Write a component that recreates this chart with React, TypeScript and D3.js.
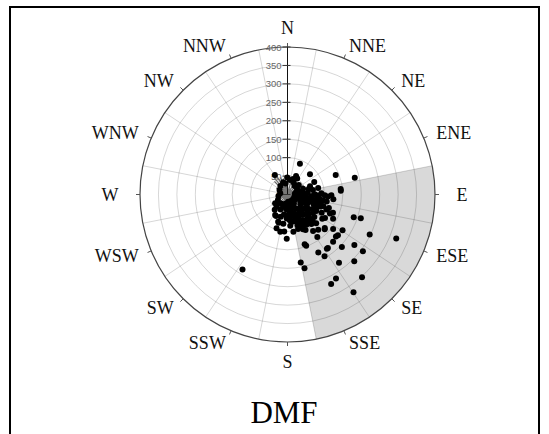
import React from "react";
import * as d3 from "d3";

// ---- data ----
const directions = ["N","NNE","NE","ENE","E","ESE","SE","SSE","S","SSW","SW","WSW","W","WNW","NW","NNW"];
const radialTicks = [0, 50, 100, 150, 200, 250, 300, 350, 400];
const sectorFrom = 78.75;
const sectorTo = 168.75;
const title = "DMF";

// scattered points: bearing (deg, clockwise from N) and value
const outerDir = [22,48,68,76,84,86,78,109,108,116,112,123,129,131,136,161,160,152,149,144,143,134,127,127,143,135,169,167,138,150,154,146,211,132,145,141,139,146,163,156,153,145,198,185,171,181];
const outerVal = [90,82,141,188,145,145,85,190,209,248,318,178,176,174,178,143,148,178,195,182,182,205,227,256,232,256,188,205,302,263,270,320,237,136,141,103,127,85,98,103,108,121,96,101,102,120];

const innerDir = [25,31,359,327,88,91,93,91,94,91,104,108,111,114,112,118,99,100,127,133,235,222,211,199,168,157,148,137,208,197,197,191,220];
const innerVal = [55,51,46,63,92,101,110,119,64,72,91,102,113,126,133,140,98,108,155,138,41,44,65,78,75,85,97,101,66,63,80,103,54];

const blobDir = [60,70,75,80,85,90,95,100,105,110,115,120,125,130,135,140,145,150,155,160,165,170,175,120,130,110,100,90,80,70,65,140,150,160,115,105,95,85,125,145,165,185,190,200,50,40,30,20,10,350,340,320,300,280,260,240,230,135,125,105,155,175,
  72,78,84,88,96,102,108,112,118,122,128,132,138,142,148,152,158,162,168,172,178,182,92,98,106,112,120,126,136,144,150,156,162,100,115,130,145,160,175,190,205,215,188,175,118,108,122,96];
const blobVal = [30,45,60,40,55,35,50,65,45,75,55,40,70,60,80,50,65,45,70,55,40,60,30,90,95,95,80,75,70,65,80,85,80,80,85,30,25,20,25,30,25,40,55,35,40,30,35,45,40,30,35,30,25,20,25,30,35,110,115,80,92,70,
  25,35,28,45,40,55,35,60,48,62,45,72,58,70,60,35,62,70,50,45,55,65,85,88,70,88,78,85,92,95,90,92,88,20,20,20,20,20,20,25,45,30,80,85,105,118,120,125];

// short grey rays around the origin
const burstDir = [0,15,30,45,60,75,90,105,120,135,150,165,180,195,210,225,240,255,270,285,300,315,322,330,338,345,352];
const burstVal = [40,35,45,40,50,55,60,65,70,60,55,50,45,40,35,30,28,25,25,30,35,50,60,58,50,45,40];

// ---- layout ----
const W = 549, H = 434;
const cx = 287.5, cy = 194.5, R = 147.5;
const serif = "'Liberation Serif', 'Times New Roman', serif";
const sans = "'Liberation Sans', Arial, sans-serif";

const rad = (deg: number) => (deg * Math.PI) / 180;

export default function App() {
  const r = d3.scaleLinear().domain([0, 400]).range([0, R]);
  const pos = (b: number, v: number): [number, number] => [
    cx + r(v) * Math.sin(rad(b)),
    cy - r(v) * Math.cos(rad(b)),
  ];

  const sectorPath = d3.arc()({
    innerRadius: 0,
    outerRadius: R,
    startAngle: rad(sectorFrom),
    endAngle: rad(sectorTo),
  } as any) as string;

  const points: [number, number][] = [];
  blobDir.forEach((b, i) => points.push(pos(b, blobVal[i])));
  innerDir.forEach((b, i) => points.push(pos(b, innerVal[i])));
  outerDir.forEach((b, i) => points.push(pos(b, outerVal[i])));

  const dirAngle = d3.scalePoint<string>().domain(directions).range([0, 360 - 22.5]);

  return (
    <svg width={W} height={H} style={{ position: "absolute", left: 0, top: 0, background: "#fff" }}>
      <rect x={0} y={0} width={W} height={H} fill="#fff" />
      <path d={sectorPath} transform={`translate(${cx},${cy})`} fill="#d9d9d9" />
      {radialTicks.slice(1, -1).map((t) => (
        <circle key={t} cx={cx} cy={cy} r={r(t)} fill="none" stroke="#000" strokeOpacity={0.16} strokeWidth={1} />
      ))}
      {directions.map((d) => {
        const a = (dirAngle(d) as number) + 11.25;
        const [x, y] = pos(a, 400);
        return <line key={d} x1={cx} y1={cy} x2={x} y2={y} stroke="#000" strokeOpacity={0.16} strokeWidth={1} />;
      })}
      <circle cx={cx} cy={cy} r={R} fill="none" stroke="#444" strokeWidth={1.2} />
      {directions.map((d) => {
        const a = dirAngle(d) as number;
        const [x1, y1] = pos(a, 400);
        const x2 = cx + (R + 4) * Math.sin(rad(a));
        const y2 = cy - (R + 4) * Math.cos(rad(a));
        return <line key={"t" + d} x1={x1} y1={y1} x2={x2} y2={y2} stroke="#555" strokeWidth={1} />;
      })}
      {burstDir.map((b, i) => {
        const [x, y] = pos(b, burstVal[i]);
        return <line key={"b" + i} x1={cx} y1={cy} x2={x} y2={y} stroke="#6a6a6a" strokeWidth={1.2} />;
      })}
      <circle cx={cx} cy={cy} r={r(16)} fill="#777" />
      <line x1={cx} y1={cy} x2={cx} y2={cy - R} stroke="#111" strokeWidth={1} />
      {radialTicks.map((t) => (
        <g key={"rt" + t}>
          <line x1={cx - 5} x2={cx + 3} y1={cy - r(t)} y2={cy - r(t)} stroke="#333" strokeWidth={1} />
          <text x={cx - 6} y={cy - r(t)} textAnchor="end" dominantBaseline="central" fontFamily={sans} fontSize={9.5} fill="#666">
            {t}
          </text>
        </g>
      ))}
      {points.map(([x, y], i) => (
        <circle key={"p" + i} cx={x} cy={y} r={3} fill="#000" />
      ))}
      {directions.map((d) => {
        const a = dirAngle(d) as number;
        let rr = 161;
        let anchor = a < 180 ? "start" : "end";
        if (a === 0 || a === 180) {
          rr = 167;
          anchor = "middle";
        } else if (a === 90 || a === 270) {
          rr = 169;
        }
        const x = cx + rr * Math.sin(rad(a));
        const y = cy - rr * Math.cos(rad(a));
        return (
          <text key={"l" + d} x={x} y={y} textAnchor={anchor} dominantBaseline="central" fontFamily={serif} fontSize={18} fill="#111">
            {d}
          </text>
        );
      })}
      <text x={284} y={423} textAnchor="middle" fontFamily={serif} fontSize={31} fill="#000">
        {title}
      </text>
      <rect x={10} y={7} width={529} height={460} fill="none" stroke="#000" strokeWidth={2} />
    </svg>
  );
}
